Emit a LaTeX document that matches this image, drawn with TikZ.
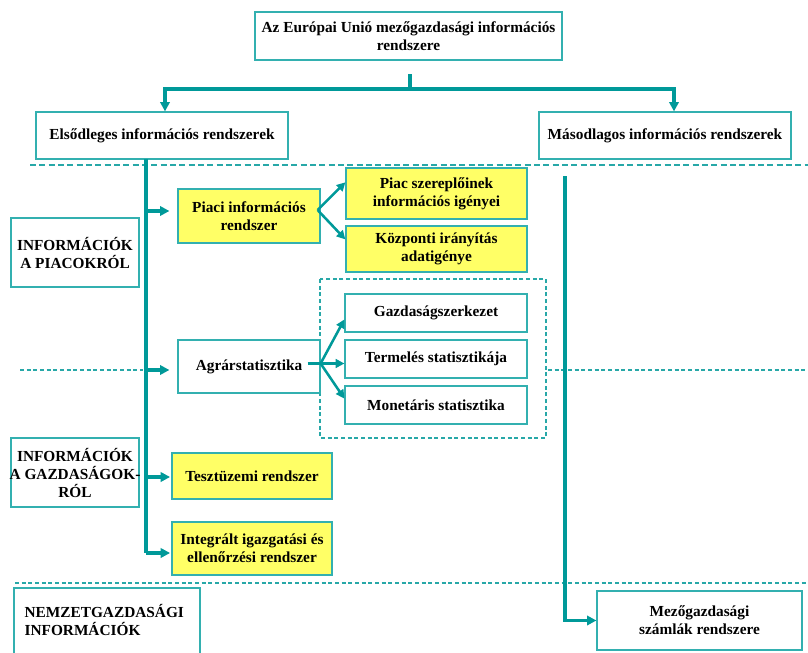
\documentclass[tikz,border=0pt]{standalone}
\usepackage{fontspec}
\setmainfont{Liberation Serif}
\usepackage{tikz}
\usetikzlibrary{arrows.meta,calc}
\usepackage{xcolor}

\definecolor{tealline}{RGB}{0,153,153}
\definecolor{tealbox}{RGB}{51,176,176}
\definecolor{tealdash}{RGB}{40,168,168}
\definecolor{boxyellow}{RGB}{255,255,102}

\tikzset{
  infobox/.style={draw=tealbox, line width=0.9pt, fill=white, align=center, inner sep=0pt,
    font=\bfseries\fontsize{11.5}{13.5}\selectfont},
  yellowbox/.style={infobox, fill=boxyellow},
  trunk/.style={draw=tealline, line width=2.3pt},
  feed/.style={trunk, -{Triangle[length=7pt,width=7pt]}, shorten >=1pt},
  fan/.style={draw=tealline, line width=1.9pt, -{Triangle[length=6.5pt,width=6.5pt]}},
  zoneline/.style={draw=tealdash, line width=0.8pt, dash pattern=on 3pt off 2pt},
}

\begin{document}
\begin{tikzpicture}[x=0.75pt,y=0.75pt,yscale=-1]
\useasboundingbox (0,0) rectangle (808,653);
\clip (0,0) rectangle (808,653);

%Dashed zone lines
\draw [zoneline, dash pattern=on 4.5pt off 2.5pt] (30,165) -- (808,165) ;
\draw [zoneline] (20,370) -- (143,370) ;
\draw [zoneline] (548,370) -- (808,370) ;
\draw [zoneline] (15,583) -- (808,583) ;
%Dashed group round the statistics boxes
\draw [zoneline] (320,279) rectangle (546,438) ;

% Text Node
\node [infobox, minimum width=230.25pt, minimum height=36pt] (eu) at (408.5,36) {Az Európai Unió mezőgazdasági információs\\rendszere};
% Text Node
\node [infobox, minimum width=189pt, minimum height=35.25pt] (prim) at (162,135.5) {Elsődleges információs rendszerek};
% Text Node
\node [infobox, minimum width=189pt, minimum height=35.25pt] (sec) at (665,135.5) {Másodlagos információs rendszerek};

% Text Node
\node [infobox, minimum width=96pt, minimum height=51.75pt] (infpiac) at (75,252.5) {INFORMÁCIÓK\\A PIACOKRÓL};
% Text Node
\node [infobox, minimum width=96pt, minimum height=51.75pt] (infgazd) at (75,472.5) {INFORMÁCIÓK\\\makebox[0pt]{A GAZDASÁGOK-}\\RÓL};
%Shape: open box at the bottom edge, with its text
\node [infobox, minimum width=139.5pt, minimum height=51pt] (nemzet) at (107,622) {};
\node [infobox, draw=none, fill=none, align=left, anchor=west] (nemzettxt) at (24,620) {NEMZETGAZDASÁGI\\INFORMÁCIÓK};

% Text Node
\node [yellowbox, minimum width=106.5pt, minimum height=40.5pt] (piaci) at (249,216) {Piaci információs\\rendszer};
% Text Node
\node [yellowbox, minimum width=135.75pt, minimum height=38.25pt] (piacsz) at (436.5,193.5) {Piac szereplőinek\\információs igényei};
% Text Node
\node [yellowbox, minimum width=135.75pt, minimum height=34.5pt] (kozp) at (436.5,249) {Központi irányítás\\adatigénye};

% Text Node
\node [infobox, minimum width=106.5pt, minimum height=39.75pt] (agr) at (249,366.5) {Agrárstatisztika};
% Text Node
\node [infobox, minimum width=136.5pt, minimum height=28.5pt] (gazd) at (436,313) {Gazdaságszerkezet};
% Text Node
\node [infobox, minimum width=136.5pt, minimum height=28.5pt] (term) at (436,359) {Termelés statisztikája};
% Text Node
\node [infobox, minimum width=136.5pt, minimum height=28.5pt] (monet) at (436,405) {Monetáris statisztika};

% Text Node
\node [yellowbox, minimum width=120pt, minimum height=34.5pt] (teszt) at (252,476) {Tesztüzemi rendszer};
% Text Node
\node [yellowbox, minimum width=120pt, minimum height=39.75pt] (integ) at (252,548.5) {Integrált igazgatási és\\ellenőrzési rendszer};

% Text Node
\node [infobox, minimum width=153.75pt, minimum height=44.25pt] (mezo) at (699.5,620.5) {Mezőgazdasági\\számlák rendszere};

%Top split
\coordinate (eufoot) at (410,74);
\coordinate (eujoin) at (410,89);
\draw [trunk] (eufoot) -- (eujoin) ;
\draw [feed, shorten >=0pt] (eujoin) -| ($(prim.north)+(3,0)$) ;
\draw [feed, shorten >=0pt] (eujoin) -| ($(sec.north)+(9,0)$) ;

%Left trunk
\coordinate (ltop) at (146,159);
\coordinate (lpiac) at (146,211);
\coordinate (lagr) at (146,370);
\coordinate (lteszt) at (146,477);
\coordinate (lbot) at (146,553);
\draw [trunk] (ltop) -- (lbot) ;
\draw [feed, shorten >=6pt] (lpiac) -- (lpiac -| piaci.west) ;
\draw [feed, shorten >=6pt] (lagr) -- (lagr -| agr.west) ;
\draw [feed] (lteszt) -- (lteszt -| teszt.west) ;
\draw [feed] (lbot) -- (lbot -| integ.west) ;

%Right trunk
\coordinate (rtop) at (565,176);
\draw [feed, shorten >=0pt] (rtop) |- (mezo.west) ;

%Fan from Piaci
\coordinate (pfan) at ($(piaci.east)+(-3,-6)$);
\draw [fan] (pfan) -- (piacsz.173) ;
\draw [fan] (pfan) -- (kozp.174) ;

%Fan from Agrarstatisztika
\coordinate (astub) at ($(agr.east)+(-13,-3)$);
\coordinate (afan) at ($(agr.east)+(0,-3)$);
\draw [draw=tealline, line width=1.9pt] (astub) -- (afan) ;
\draw [fan] (afan) -- (gazd.184) ;
\draw [fan] (afan) -- (afan -| term.west) ;
\draw [fan] (afan) -- (monet.176) ;

\end{tikzpicture}
\end{document}
